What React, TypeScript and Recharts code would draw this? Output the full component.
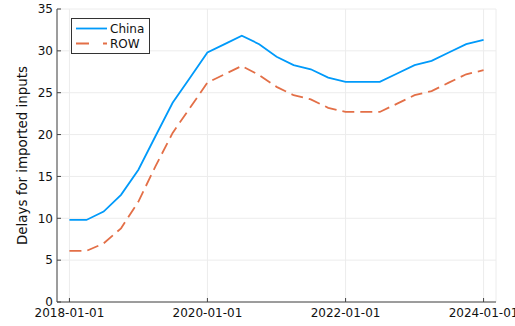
import { LineChart, Line, XAxis, YAxis, CartesianGrid, Legend, Label } from 'recharts'

const quarters = [
  '2018-01-01', '2018-04-01', '2018-07-01', '2018-10-01',
  '2019-01-01', '2019-04-01', '2019-07-01', '2019-10-01',
  '2020-01-01', '2020-04-01', '2020-07-01', '2020-10-01',
  '2021-01-01', '2021-04-01', '2021-07-01', '2021-10-01',
  '2022-01-01', '2022-04-01', '2022-07-01', '2022-10-01',
  '2023-01-01', '2023-04-01', '2023-07-01', '2023-10-01',
  '2024-01-01',
]
const china = [9.8, 9.8, 10.8, 12.8, 15.8, 19.8, 23.8, 26.8, 29.8, 30.8, 31.8, 30.8, 29.3, 28.3, 27.8, 26.8, 26.3, 26.3, 26.3, 27.3, 28.3, 28.8, 29.8, 30.8, 31.3]
const row = [6.1, 6.1, 7.0, 8.8, 12.0, 16.2, 20.2, 23.2, 26.2, 27.2, 28.2, 27.1, 25.7, 24.7, 24.2, 23.2, 22.7, 22.7, 22.7, 23.7, 24.7, 25.2, 26.2, 27.2, 27.7]
const xTickLabels = ['2018-01-01', '2020-01-01', '2022-01-01', '2024-01-01']
const yTicks = [0, 5, 10, 15, 20, 25, 30, 35]

const FONT = '"DejaVu Sans", sans-serif'
const BLUE = '#009AFA'
const ORANGE = '#E36F47'

const data = quarters.map((q, i) => ({ t: Date.parse(q), China: china[i], ROW: row[i] }))
const xTicks = xTickLabels.map((d) => Date.parse(d))
const span = xTicks[xTicks.length - 1] - xTicks[0]
const xDomain = [xTicks[0] - span * 0.03, xTicks[xTicks.length - 1] + span * 0.03]

function LegendBox() {
  const items = [
    { name: 'China', color: BLUE, dash: undefined },
    { name: 'ROW', color: ORANGE, dash: '13 14' },
  ]
  return (
    <div style={{ width: 77, height: 34, border: '1px solid #333', background: '#fff', fontFamily: FONT, fontSize: 12 }}>
      {items.map((it, i) => (
        <div key={it.name} style={{ display: 'flex', alignItems: 'center', height: 15, marginTop: i === 0 ? 2 : 0 }}>
          <svg width={38} height={15} style={{ display: 'block' }}>
            <line x1={4} x2={35} y1={7.5} y2={7.5} stroke={it.color} strokeWidth={1.8} strokeDasharray={it.dash} />
          </svg>
          <span style={{ color: '#111' }}>{it.name}</span>
        </div>
      ))}
    </div>
  )
}

export default function App() {
  return (
    <div style={{ position: 'absolute', left: 0, top: 0, background: '#fff' }}>
      <LineChart width={515} height={326} data={data} margin={{ top: 9, right: 19, bottom: 0, left: 0 }}>
        <CartesianGrid stroke="#ececec" strokeWidth={1} />
        <XAxis
          dataKey="t"
          type="number"
          domain={xDomain}
          ticks={xTicks}
          height={24}
          tickFormatter={(v: number) => new Date(v).toISOString().slice(0, 10)}
          tick={{ fill: '#111', fontSize: 12, fontFamily: FONT }}
          tickSize={-4}
          tickMargin={10.5}
          stroke="#444"
          allowDataOverflow
        />
        <YAxis
          type="number"
          domain={[0, 35]}
          ticks={yTicks}
          width={57}
          tick={{ fill: '#111', fontSize: 12, fontFamily: FONT }}
          tickSize={-4}
          tickMargin={8}
          stroke="#444"
        >
          <Label
            content={({ viewBox }: any) => {
              const cx = viewBox.x + 22
              const cy = viewBox.y + viewBox.height / 2
              return (
                <text x={cx} y={cy} transform={`rotate(-90, ${cx}, ${cy})`} textAnchor="middle" dominantBaseline="central"
                  style={{ fontFamily: FONT, fontSize: 13.4, fill: '#111' }}>
                  Delays for imported inputs
                </text>
              )
            }}
          />
        </YAxis>
        <Legend
          layout="horizontal"
          verticalAlign="middle"
          align="center"
          content={<LegendBox />}
          wrapperStyle={{ left: 71, top: 18, width: 'auto' }}
        />
        <Line type="linear" dataKey="China" stroke={BLUE} strokeWidth={1.8} dot={false} isAnimationActive={false} />
        <Line type="linear" dataKey="ROW" stroke={ORANGE} strokeWidth={1.8} strokeDasharray="12 6" dot={false} isAnimationActive={false} />
      </LineChart>
    </div>
  )
}
